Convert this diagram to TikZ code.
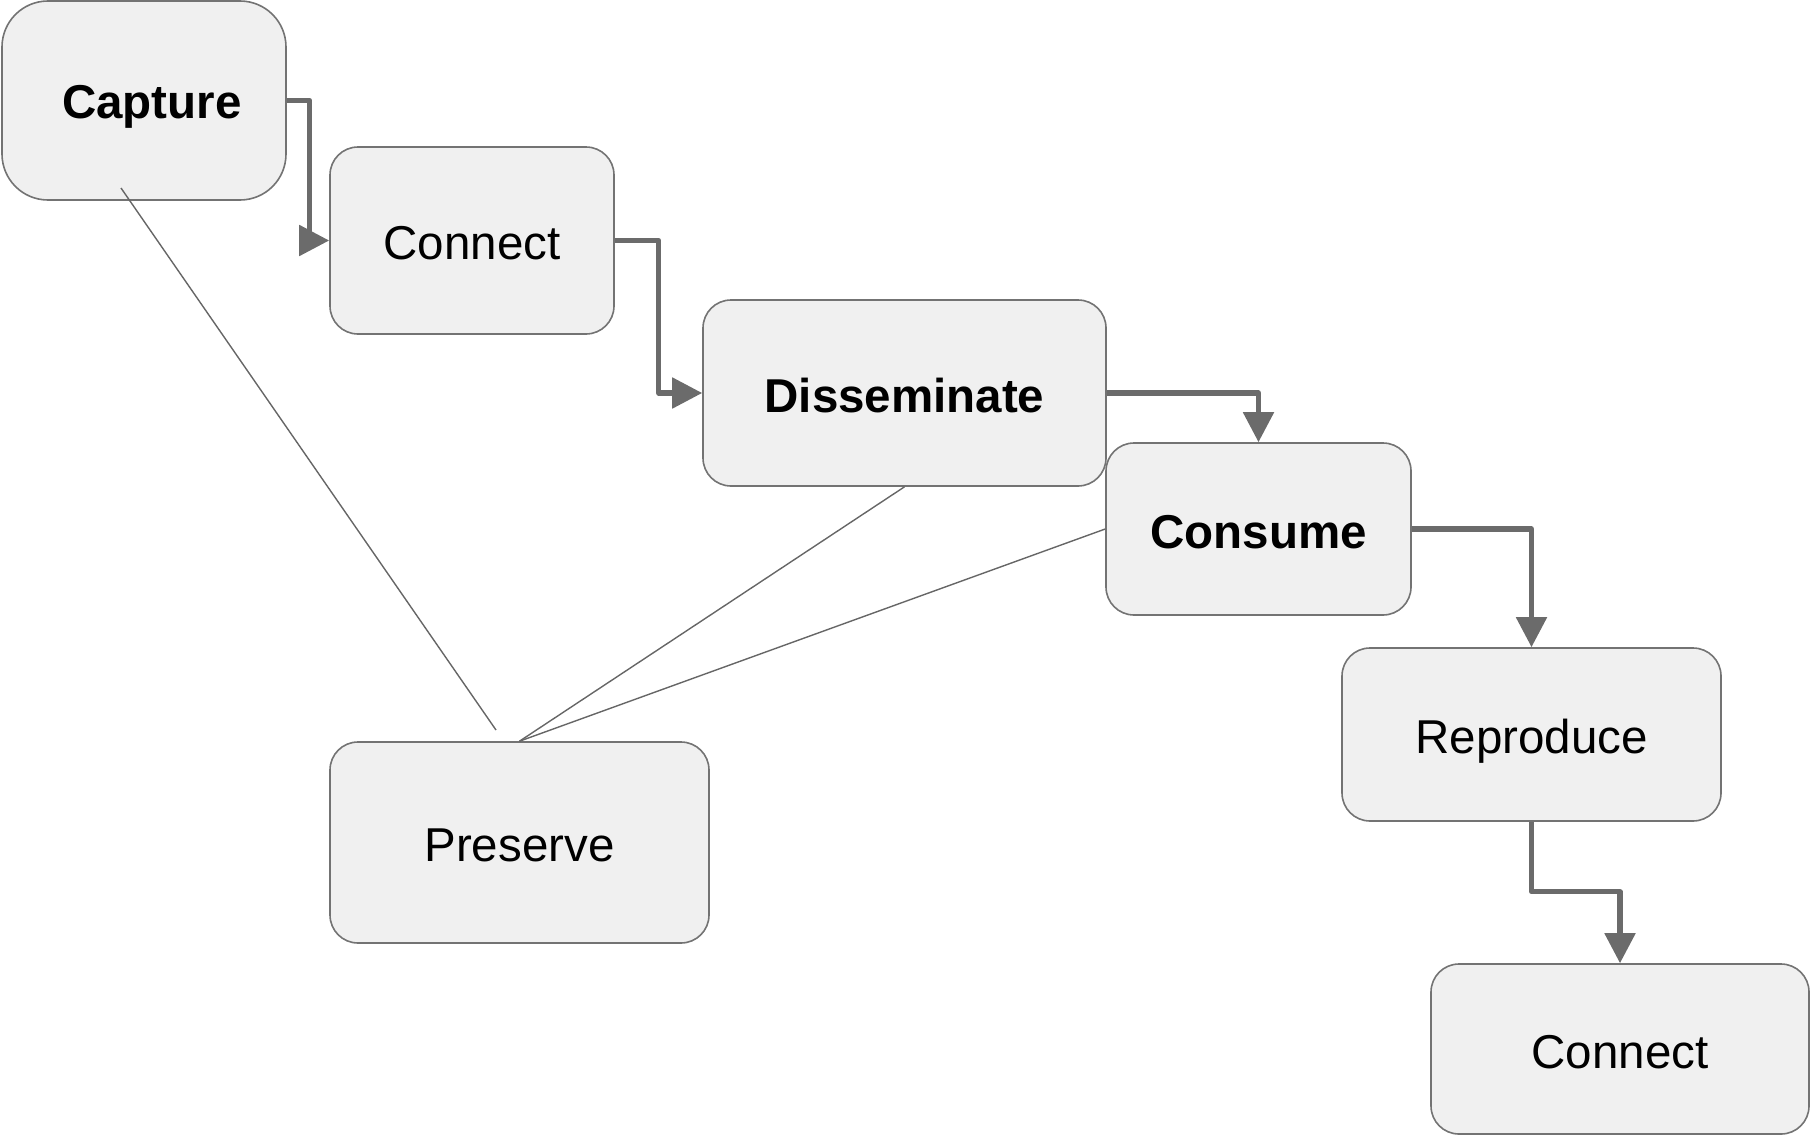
\documentclass[tikz,border=0pt]{standalone}
\usepackage{fontspec}
\setmainfont{Liberation Sans}
\usetikzlibrary{arrows.meta}
\definecolor{boxfill}{HTML}{F0F0F0}
\definecolor{boxline}{HTML}{737373}
\definecolor{arrcol}{HTML}{6B6B6B}
\definecolor{thincol}{HTML}{666666}
\tikzset{
  stagebox/.style={draw=boxline, line width=0.8pt, fill=boxfill, rounded corners=14pt,
    inner sep=0pt, font=\fontsize{23.75pt}{28pt}\selectfont, text=black,
    text height=19pt, text depth=0pt},
  flowarrow/.style={draw=arrcol, line width=2.6pt, line join=round,
    -{Triangle[length=15pt,width=15pt]}},
  linkline/.style={draw=thincol, line width=0.7pt},
}
\begin{document}
\begin{tikzpicture}[x=0.5pt,y=-0.5pt]
\useasboundingbox (0,0) rectangle (1810,1135);

\node[stagebox, rounded corners=23pt, text height=17.5pt, minimum width=142pt, minimum height=99.5pt] (capture) at (144,100.5) {\hspace*{8pt}\bfseries Capture};
\node[stagebox, minimum width=142pt, minimum height=93.5pt] (connecta) at (472,240.5) {Connect};
\node[stagebox, minimum width=201.5pt, minimum height=93pt] (dissem) at (904.5,393) {\bfseries Disseminate};
\node[stagebox, minimum width=152.5pt, minimum height=86pt] (consume) at (1258.5,529) {\bfseries Consume};
\node[stagebox, minimum width=189.5pt, minimum height=86.5pt] (reproduce) at (1531.5,734.5) {Reproduce};
\node[stagebox, minimum width=189pt, minimum height=85pt] (connectb) at (1620,1049) {Connect};
\node[stagebox, minimum width=189.5pt, minimum height=100.5pt] (preserve) at (519.5,842.5) {Preserve};

\coordinate (capfoot) at (121,188);
\coordinate (presgap) at (496,730);

\draw[linkline] (capfoot) -- (presgap);
\draw[linkline] (dissem.south) -- (preserve.north);
\draw[linkline] (consume.west) -- (preserve.north);

\draw[flowarrow] (capture.east) -- ++(23,0) |- (connecta.west);
\draw[flowarrow] (connecta.east) -- ++(44,0) |- (dissem.west);
\draw[flowarrow] (dissem.east) -| (consume.north);
\draw[flowarrow] (consume.east) -| (reproduce.north);
\draw[flowarrow] (reproduce.south) -- ++(0,70) -| (connectb.north);
\end{tikzpicture}
\end{document}
